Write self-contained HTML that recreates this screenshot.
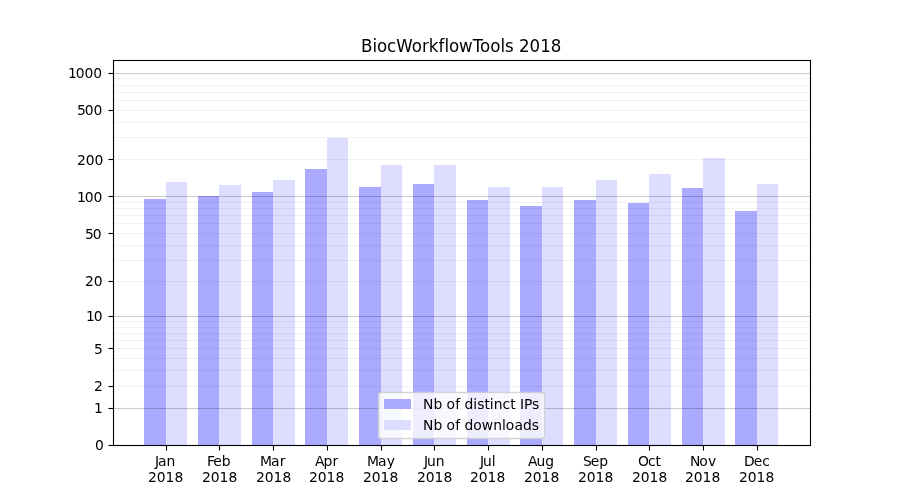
<!DOCTYPE html>
<html lang="en"><head><meta charset="utf-8"><title>BiocWorkflowTools 2018</title>
<style>html,body{margin:0;padding:0;background:#fff}body{width:900px;height:500px;overflow:hidden}svg{display:block}text{font-family:"DejaVu Sans","Liberation Sans",sans-serif;fill:#000}.t{font-size:13.889px}.h{font-size:16.667px}.r{text-anchor:end}.c{text-anchor:middle}</style></head><body>
<svg width="900" height="500" viewBox="0 0 900 500">
<rect width="900" height="500" fill="#fff"/>
<g shape-rendering="crispEdges">
<rect x="144" y="199" width="22" height="246" fill="#aaaaff"/>
<rect x="166" y="182" width="21" height="263" fill="#ddddff"/>
<rect x="198" y="196" width="21" height="249" fill="#aaaaff"/>
<rect x="219" y="185" width="22" height="260" fill="#ddddff"/>
<rect x="252" y="192" width="21" height="253" fill="#aaaaff"/>
<rect x="273" y="180" width="22" height="265" fill="#ddddff"/>
<rect x="305" y="169" width="22" height="276" fill="#aaaaff"/>
<rect x="327" y="138" width="21" height="307" fill="#ddddff"/>
<rect x="359" y="187" width="22" height="258" fill="#aaaaff"/>
<rect x="381" y="165" width="21" height="280" fill="#ddddff"/>
<rect x="413" y="184" width="21" height="261" fill="#aaaaff"/>
<rect x="434" y="165" width="22" height="280" fill="#ddddff"/>
<rect x="467" y="200" width="21" height="245" fill="#aaaaff"/>
<rect x="488" y="187" width="22" height="258" fill="#ddddff"/>
<rect x="520" y="206" width="22" height="239" fill="#aaaaff"/>
<rect x="542" y="187" width="21" height="258" fill="#ddddff"/>
<rect x="574" y="200" width="22" height="245" fill="#aaaaff"/>
<rect x="596" y="180" width="21" height="265" fill="#ddddff"/>
<rect x="628" y="203" width="21" height="242" fill="#aaaaff"/>
<rect x="649" y="174" width="22" height="271" fill="#ddddff"/>
<rect x="682" y="188" width="21" height="257" fill="#aaaaff"/>
<rect x="703" y="158" width="22" height="287" fill="#ddddff"/>
<rect x="735" y="211" width="22" height="234" fill="#aaaaff"/>
<rect x="757" y="184" width="21" height="261" fill="#ddddff"/>
</g>
<g fill="#000">
<rect x="112.5" y="407.945" width="697.5" height="1.111" fill-opacity="0.2"/>
<rect x="112.5" y="385.945" width="697.5" height="1.111" fill-opacity="0.05"/>
<rect x="112.5" y="369.945" width="697.5" height="1.111" fill-opacity="0.05"/>
<rect x="112.5" y="357.945" width="697.5" height="1.111" fill-opacity="0.05"/>
<rect x="112.5" y="347.945" width="697.5" height="1.111" fill-opacity="0.05"/>
<rect x="112.5" y="339.945" width="697.5" height="1.111" fill-opacity="0.05"/>
<rect x="112.5" y="332.945" width="697.5" height="1.111" fill-opacity="0.05"/>
<rect x="112.5" y="326.945" width="697.5" height="1.111" fill-opacity="0.05"/>
<rect x="112.5" y="320.945" width="697.5" height="1.111" fill-opacity="0.05"/>
<rect x="112.5" y="315.945" width="697.5" height="1.111" fill-opacity="0.2"/>
<rect x="112.5" y="280.945" width="697.5" height="1.111" fill-opacity="0.05"/>
<rect x="112.5" y="259.945" width="697.5" height="1.111" fill-opacity="0.05"/>
<rect x="112.5" y="244.945" width="697.5" height="1.111" fill-opacity="0.05"/>
<rect x="112.5" y="232.945" width="697.5" height="1.111" fill-opacity="0.05"/>
<rect x="112.5" y="222.945" width="697.5" height="1.111" fill-opacity="0.05"/>
<rect x="112.5" y="214.945" width="697.5" height="1.111" fill-opacity="0.05"/>
<rect x="112.5" y="207.945" width="697.5" height="1.111" fill-opacity="0.05"/>
<rect x="112.5" y="201.945" width="697.5" height="1.111" fill-opacity="0.05"/>
<rect x="112.5" y="195.945" width="697.5" height="1.111" fill-opacity="0.2"/>
<rect x="112.5" y="158.945" width="697.5" height="1.111" fill-opacity="0.05"/>
<rect x="112.5" y="136.945" width="697.5" height="1.111" fill-opacity="0.05"/>
<rect x="112.5" y="121.945" width="697.5" height="1.111" fill-opacity="0.05"/>
<rect x="112.5" y="109.945" width="697.5" height="1.111" fill-opacity="0.05"/>
<rect x="112.5" y="99.945" width="697.5" height="1.111" fill-opacity="0.05"/>
<rect x="112.5" y="91.945" width="697.5" height="1.111" fill-opacity="0.05"/>
<rect x="112.5" y="84.945" width="697.5" height="1.111" fill-opacity="0.05"/>
<rect x="112.5" y="77.945" width="697.5" height="1.111" fill-opacity="0.05"/>
<rect x="112.5" y="72.945" width="697.5" height="1.111" fill-opacity="0.2"/>
</g>
<g fill="#000">
<rect x="112.945" y="59.944" width="1.111" height="386.111"/>
<rect x="809.944" y="59.944" width="1.111" height="386.111"/>
<rect x="112.945" y="59.944" width="698.111" height="1.111"/>
<rect x="112.945" y="444.945" width="698.111" height="1.111"/>
<rect x="108.5" y="444.945" width="5" height="1.111"/>
<rect x="108.5" y="407.945" width="5" height="1.111"/>
<rect x="108.5" y="385.945" width="5" height="1.111"/>
<rect x="108.5" y="347.945" width="5" height="1.111"/>
<rect x="108.5" y="315.945" width="5" height="1.111"/>
<rect x="108.5" y="280.945" width="5" height="1.111"/>
<rect x="108.5" y="232.945" width="5" height="1.111"/>
<rect x="108.5" y="195.945" width="5" height="1.111"/>
<rect x="108.5" y="158.945" width="5" height="1.111"/>
<rect x="108.5" y="109.945" width="5" height="1.111"/>
<rect x="108.5" y="72.945" width="5" height="1.111"/>
<rect x="165.945" y="445.5" width="1.111" height="5"/>
<rect x="218.945" y="445.5" width="1.111" height="5"/>
<rect x="272.945" y="445.5" width="1.111" height="5"/>
<rect x="326.945" y="445.5" width="1.111" height="5"/>
<rect x="380.945" y="445.5" width="1.111" height="5"/>
<rect x="433.945" y="445.5" width="1.111" height="5"/>
<rect x="487.945" y="445.5" width="1.111" height="5"/>
<rect x="541.944" y="445.5" width="1.111" height="5"/>
<rect x="595.944" y="445.5" width="1.111" height="5"/>
<rect x="648.944" y="445.5" width="1.111" height="5"/>
<rect x="702.944" y="445.5" width="1.111" height="5"/>
<rect x="756.944" y="445.5" width="1.111" height="5"/>
</g>
<text class="t" x="94.97" y="450.00">0</text>
<text class="t" x="93.98" y="413.00">1</text>
<text class="t" x="93.95" y="391.00">2</text>
<text class="t" x="94.01" y="354.00">5</text>
<text class="t" x="85.94 93.81" y="321.00">10</text>
<text class="t" x="84.94 93.69" y="286.00">20</text>
<text class="t" x="84.89 92.64" y="239.00">50</text>
<text class="t" x="77.06 84.69 93.44" y="202.00">100</text>
<text class="t" x="76.91 85.66 94.41" y="165.00">200</text>
<text class="t" x="76.92 84.67 93.42" y="115.00">500</text>
<text class="t" x="67.97 75.84 84.59 93.34" y="78.00">1000</text>
<text class="t" x="155.07 158.07 166.57" y="466.00">Jan</text>
<text class="t" x="147.97 156.72 165.47 174.47" y="482.00">2018</text>
<text class="t" x="207.01 213.26 221.76" y="466.00">Feb</text>
<text class="t" x="201.94 210.69 219.44 228.44" y="482.00">2018</text>
<text class="t" x="259.99 270.99 279.74" y="466.00">Mar</text>
<text class="t" x="255.88 264.63 273.38 282.38" y="482.00">2018</text>
<text class="t" x="314.89 323.39 332.39" y="466.00">Apr</text>
<text class="t" x="308.95 317.70 326.45 335.45" y="482.00">2018</text>
<text class="t" x="366.96 377.96 386.71" y="466.00">May</text>
<text class="t" x="362.90 371.65 380.40 389.40" y="482.00">2018</text>
<text class="t" x="424.12 427.12 435.75" y="466.00">Jun</text>
<text class="t" x="416.94 425.69 434.44 443.44" y="482.00">2018</text>
<text class="t" x="480.12 483.12 491.87" y="466.00">Jul</text>
<text class="t" x="469.90 478.65 487.40 496.40" y="482.00">2018</text>
<text class="t" x="528.10 536.60 545.35" y="466.00">Aug</text>
<text class="t" x="523.95 532.70 541.45 550.45" y="482.00">2018</text>
<text class="t" x="583.02 590.77 599.27" y="466.00">Sep</text>
<text class="t" x="577.95 586.70 595.45 604.45" y="482.00">2018</text>
<text class="t" x="638.05 647.92 655.55" y="466.00">Oct</text>
<text class="t" x="631.88 640.63 649.38 658.38" y="482.00">2018</text>
<text class="t" x="689.92 699.17 707.92" y="466.00">Nov</text>
<text class="t" x="684.96 693.71 702.46 711.46" y="482.00">2018</text>
<text class="t" x="744.08 753.83 762.33" y="466.00">Dec</text>
<text class="t" x="738.92 747.67 756.42 765.42" y="482.00">2018</text>
<text class="h" transform="translate(361.07 52.00) scale(1 1.080)" x="0.00 11.38 15.88 25.88 35.25 50.62 60.88 67.75 77.50 83.38 87.88 97.88 111.75 119.00 129.12 139.38 144.00 152.75 158.00 168.38 179.12 189.75" y="0">BiocWorkflowTools 2018</text>
<rect x="378.5" y="392.5" width="166" height="46" rx="2.78" ry="2.78" fill="#fff" fill-opacity="0.8" stroke="#ccc" stroke-opacity="0.8" stroke-width="1.389"/>
<rect x="384" y="399" width="27" height="10" fill="#aaaaff" shape-rendering="crispEdges"/>
<rect x="384" y="420" width="27" height="10" fill="#ddddff" shape-rendering="crispEdges"/>
<text class="t" x="423.11 433.49 442.36 446.61 455.24 460.24 464.61 473.24 477.24 484.49 489.74 493.74 502.61 510.24 515.74 520.11 524.11 532.11" y="409.00">Nb of distinct IPs</text>
<text class="t" x="423.06 433.44 442.31 446.56 455.19 460.19 464.56 473.31 481.69 493.19 502.06 505.81 514.43 523.06 531.81" y="430.00">Nb of downloads</text>
</svg></body></html>
